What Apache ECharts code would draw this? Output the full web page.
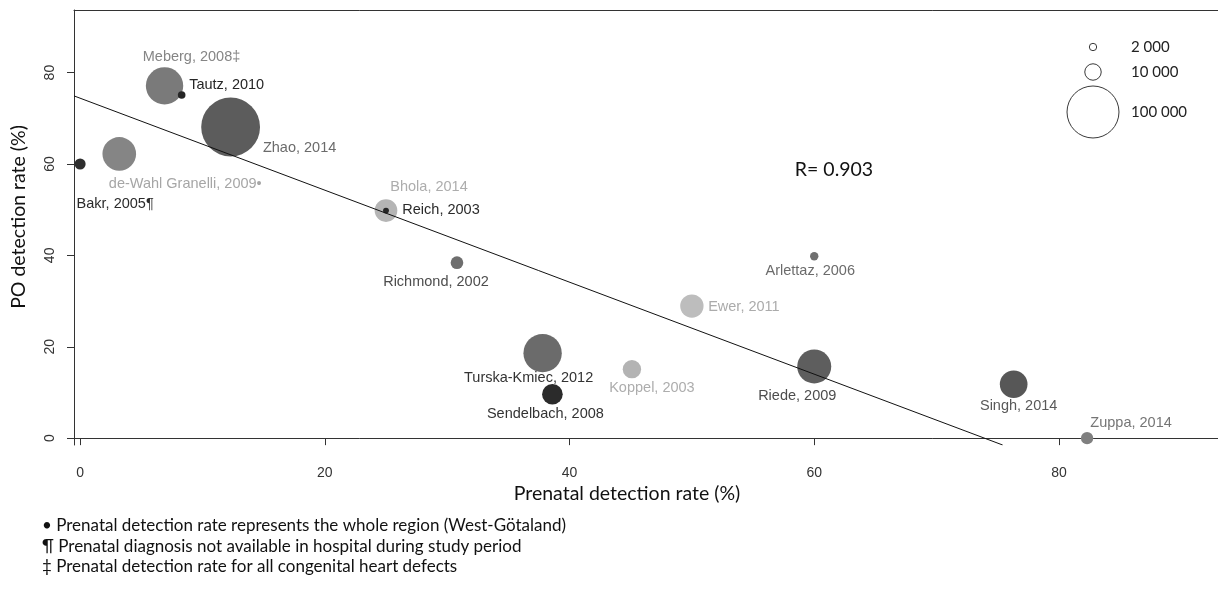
<!DOCTYPE html>
<html>
<head>
<meta charset="utf-8">
<title>PO detection rate vs prenatal detection rate</title>
<script src="https://cdn.jsdelivr.net/npm/echarts@6/dist/echarts.min.js"></script>
<style>
  html, body { margin: 0; padding: 0; background: #fff; }
  #chart { width: 1218px; height: 592px; }
</style>
</head>
<body>
<div id="chart"></div>
<script>
// studies
const studyNames = [
  'Bakr, 2005¶', 'de-Wahl Granelli, 2009•', 'Meberg, 2008‡', 'Tautz, 2010',
  'Zhao, 2014', 'Bhola, 2014', 'Reich, 2003', 'Richmond, 2002',
  'Turska-Kmiec, 2012', 'Sendelbach, 2008', 'Koppel, 2003', 'Ewer, 2011',
  'Arlettaz, 2006', 'Riede, 2009', 'Singh, 2014', 'Zuppa, 2014'
]
const prenatalRate = [0, 3.2, 6.9, 8.3, 12.3, 25.0, 25.0, 30.8, 37.8, 38.6, 45.1, 50.0, 60.0, 60.0, 76.3, 82.3]
const poRate = [60.0, 62.2, 77.1, 75.1, 68.1, 49.8, 49.8, 38.4, 18.6, 9.6, 15.1, 28.9, 39.8, 15.7, 11.8, 0]
const cohortSize = [4500, 41900, 51700, 2150, 128000, 19000, 1300, 5900, 54400, 15800, 12500, 20200, 2600, 42800, 28300, 5600]

// regression line end points
const fitLine = [[-0.5, 74.9], [75.4, -1.5]]
const rValue = 'R= 0.903'

const xTicks = [0, 20, 40, 60, 80]
const yTicks = [0, 20, 40, 60, 80]
const sizeLegend = [2000, 10000, 100000]
const sizeLegendLabels = ['2 000', '10 000', '100 000']

const footnotes = [
  '• Prenatal detection rate represents the whole region (West-Götaland)',
  '¶ Prenatal diagnosis not available in hospital during study period',
  '‡ Prenatal detection rate for all congenital heart defects'
]

// styles
const dotColors = ['#2e2e2e', '#858585', '#7a7a7a', '#262626', '#5c5c5c', '#b5b5b5', '#262626', '#6e6e6e',
  '#6b6b6b', '#2b2b2b', '#b3b3b3', '#bdbdbd', '#707070', '#5e5e5e', '#575757', '#808080']
const labelColors = ['#2b2b2b', '#a6a6a6', '#858585', '#262626', '#6b6b6b', '#adadad', '#2b2b2b', '#4d4d4d',
  '#333333', '#333333', '#adadad', '#ababab', '#6b6b6b', '#4d4d4d', '#595959', '#757575']
const labelOffsets = [[35, 40], [66, 30], [27, -29], [45, -10], [69, 21], [43, -24], [55, -1], [-21, 19],
  [-14, 25], [-7, 20], [20, 19], [52, 1], [-4, 15], [-17, 30], [5, 22], [44, -15]]

const calibriLike = 'Lato, "Open Sans", sans-serif'

function bubbleRadius(n) {
  return 0.0822 * Math.sqrt(n)
}

const chart = echarts.init(document.getElementById('chart'), null, { renderer: 'canvas' })

// big bubbles first so small dots sit on top
const order = studyNames.map((_, i) => i).sort((a, b) => cohortSize[b] - cohortSize[a])
const points = order.map(i => ({
  name: studyNames[i],
  value: [prenatalRate[i], poRate[i]],
  symbolSize: 2 * bubbleRadius(cohortSize[i]),
  itemStyle: { color: dotColors[i] },
  label: { color: labelColors[i] }
}))

const legendX = 1093
const legendY = [47, 72, 112]

const graphics = []
sizeLegend.forEach((n, i) => {
  graphics.push({
    type: 'circle',
    shape: { cx: legendX, cy: legendY[i], r: bubbleRadius(n) },
    style: { fill: '#fff', stroke: '#3a3a3a', lineWidth: 1 }
  })
  graphics.push({
    type: 'text',
    x: 1131, y: legendY[i],
    style: { text: sizeLegendLabels[i], font: '15px ' + calibriLike, fill: '#222', align: 'left', verticalAlign: 'middle' }
  })
})
graphics.push({
  type: 'text',
  x: 834, y: 170,
  style: { text: rValue, font: '19.5px ' + calibriLike, fill: '#111', align: 'center', verticalAlign: 'middle' }
})
graphics.push({
  type: 'text',
  x: 627, y: 494,
  style: { text: 'Prenatal detection rate (%)', font: '19.5px ' + calibriLike, fill: '#111', align: 'center', verticalAlign: 'middle' }
})
graphics.push({
  type: 'text',
  x: 19, y: 217,
  rotation: Math.PI / 2,
  style: { text: 'PO detection rate (%)', font: '19.5px ' + calibriLike, fill: '#111', align: 'center', verticalAlign: 'middle' }
})
footnotes.forEach((t, i) => {
  graphics.push({
    type: 'text',
    x: 42, y: 526 + i * 20.5,
    style: { text: t, font: '17px ' + calibriLike, fill: '#111', align: 'left', verticalAlign: 'middle' }
  })
})

chart.setOption({
  animation: false,
  backgroundColor: '#fff',
  grid: {
    left: 74,
    right: 0,
    top: 10,
    bottom: 147
  },
  xAxis: [{
    type: 'value',
    min: -0.5,
    max: 93.0,
    axisLine: { show: true, lineStyle: { color: '#333', width: 1 } },
    axisTick: { show: true, length: 7, customValues: xTicks, lineStyle: { color: '#333' } },
    axisLabel: {
      customValues: xTicks,
      margin: 21,
      color: '#333',
      fontSize: 14,
      fontFamily: '"Liberation Sans", Arial, sans-serif'
    },
    splitLine: { show: false }
  }, {
    type: 'value',
    position: 'top',
    min: -0.5,
    max: 93.0,
    axisLine: { show: true, onZero: false, lineStyle: { color: '#333', width: 1 } },
    axisTick: { show: false },
    axisLabel: { show: false },
    splitLine: { show: false }
  }],
  yAxis: {
    type: 'value',
    min: -1.5,
    max: 93.7,
    axisLine: { show: true, onZero: false, lineStyle: { color: '#333', width: 1 } },
    axisTick: { show: true, length: 7, customValues: yTicks, lineStyle: { color: '#333' } },
    axisLabel: {
      customValues: yTicks,
      rotate: 90,
      margin: 17,
      color: '#333',
      fontSize: 14,
      fontFamily: '"Liberation Sans", Arial, sans-serif'
    },
    splitLine: { show: false }
  },
  series: [{
    type: 'scatter',
    xAxisIndex: 0,
    data: points,
    itemStyle: { opacity: 1 },
    label: {
      show: true,
      position: 'inside',
      formatter: p => p.name,
      fontSize: 14.5,
      fontFamily: '"Liberation Sans", Arial, sans-serif'
    },
    labelLayout: params => {
      const off = labelOffsets[order[params.dataIndex]]
      return { dx: off[0], dy: off[1], hideOverlap: false }
    },
    z: 2
  }, {
    type: 'line',
    xAxisIndex: 0,
    data: fitLine,
    showSymbol: false,
    symbol: 'none',
    lineStyle: { color: '#111', width: 1 },
    silent: true,
    z: 3
  }],
  graphic: graphics
})
</script>
</body>
</html>
